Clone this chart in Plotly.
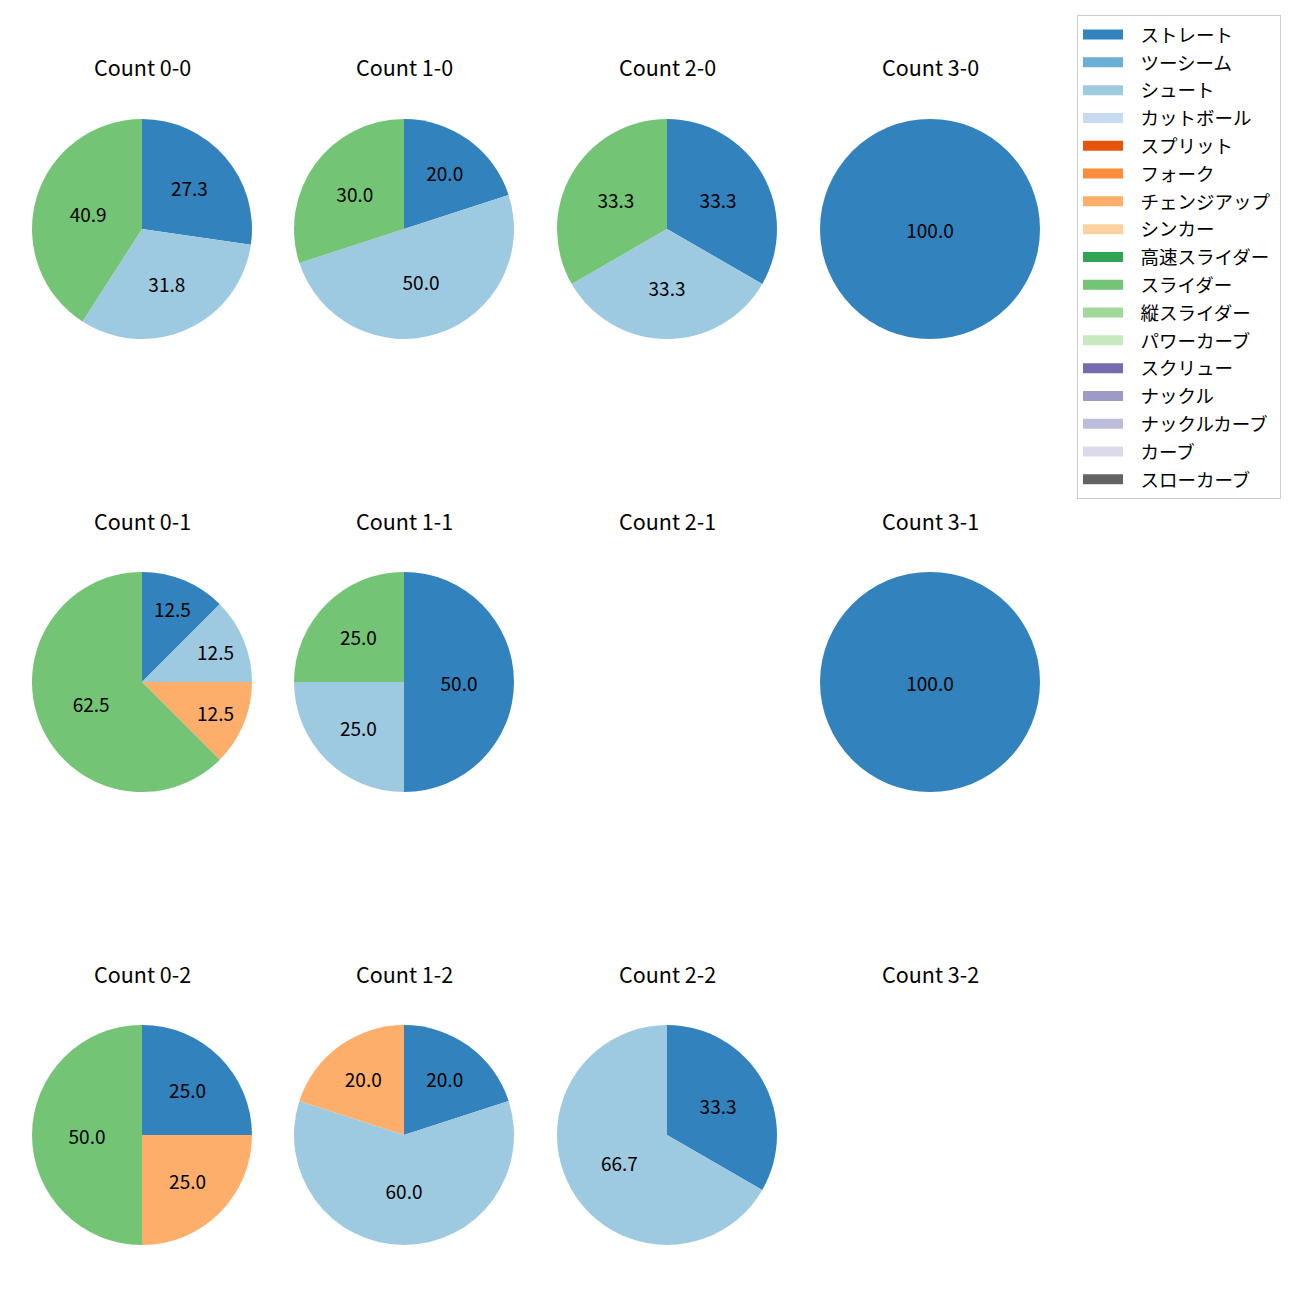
import plotly.graph_objects as go

pitch_types = ["ストレート", "ツーシーム", "シュート", "カットボール", "スプリット", "フォーク",
               "チェンジアップ", "シンカー", "高速スライダー", "スライダー", "縦スライダー",
               "パワーカーブ", "スクリュー", "ナックル", "ナックルカーブ", "カーブ", "スローカーブ"]
colors = ["#3182bd", "#6baed6", "#9ecae1", "#c6dbef", "#e6550d", "#fd8d3c",
          "#fdae6b", "#fdd0a2", "#31a354", "#74c476", "#a1d99b", "#c7e9c0",
          "#756bb1", "#9e9ac8", "#bcbddc", "#dadaeb", "#636363"]
color_map = dict(zip(pitch_types, colors))

counts = ["0-0", "1-0", "2-0", "3-0", "0-1", "1-1", "2-1", "3-1", "0-2", "1-2", "2-2", "3-2"]
labels_by_count = {
    "0-0": ["ストレート", "シュート", "スライダー"],
    "1-0": ["ストレート", "シュート", "スライダー"],
    "2-0": ["ストレート", "シュート", "スライダー"],
    "3-0": ["ストレート"],
    "0-1": ["ストレート", "シュート", "チェンジアップ", "スライダー"],
    "1-1": ["ストレート", "シュート", "スライダー"],
    "2-1": [],
    "3-1": ["ストレート"],
    "0-2": ["ストレート", "チェンジアップ", "スライダー"],
    "1-2": ["ストレート", "シュート", "チェンジアップ"],
    "2-2": ["ストレート", "シュート"],
    "3-2": [],
}
values_by_count = {
    "0-0": [6, 7, 9],
    "1-0": [2, 5, 3],
    "2-0": [1, 1, 1],
    "3-0": [1],
    "0-1": [1, 1, 1, 5],
    "1-1": [2, 1, 1],
    "2-1": [],
    "3-1": [1],
    "0-2": [1, 1, 2],
    "1-2": [1, 3, 1],
    "2-2": [1, 2],
    "3-2": [],
}

W, H = 1300, 1300
OFF = 8  # page body margin
col_centers = [142 - OFF, 404 - OFF, 667 - OFF, 930 - OFF]
row_centers = [229 - OFF, 682 - OFF, 1135 - OFF]
R = 110
FONT = "Noto Sans CJK JP"

fig = go.Figure()
annotations = []
for i, c in enumerate(counts):
    r, k = divmod(i, 4)
    cx, cy = col_centers[k], row_centers[r]
    labs = labels_by_count[c]
    vals = values_by_count[c]
    annotations.append(dict(text=f"Count {c}", x=cx / W, y=1 - (cy - 162) / H,
                            xref="paper", yref="paper", showarrow=False,
                            font=dict(size=21.5, color="black", family=FONT),
                            xanchor="center", yanchor="middle"))
    if not vals:
        continue
    tot = sum(vals)
    txt = [f"{v / tot * 100:.1f}" for v in vals]
    fig.add_trace(go.Pie(
        labels=labs, values=vals, text=txt, textinfo="text",
        textposition="inside", insidetextorientation="horizontal",
        textfont=dict(size=19, color="black", family=FONT),
        marker=dict(colors=[color_map[l] for l in labs], line=dict(width=0)),
        sort=False, direction="clockwise", rotation=0,
        domain=dict(x=[(cx - R) / W, (cx + R) / W], y=[1 - (cy + R) / H, 1 - (cy - R) / H]),
        showlegend=False, hoverinfo="label+percent",
    ))

for p, col in zip(pitch_types, colors):
    fig.add_trace(go.Scatter(x=[None], y=[None], mode="lines", name="\u00a0\u00a0\u00a0" + p + "\u00a0",
                             line=dict(color=col, width=13), legendgroup=p))

fig.update_layout(
    width=W, height=H, margin=dict(l=0, r=0, t=0, b=0),
    paper_bgcolor="white", plot_bgcolor="white",
    xaxis=dict(visible=False), yaxis=dict(visible=False),
    annotations=annotations,
    font=dict(family=FONT),
    legend=dict(x=(1077 - OFF) / W, y=1 - (15 - OFF) / H, xanchor="left", yanchor="top",
                bordercolor="#cccccc", borderwidth=1, bgcolor="white",
                font=dict(size=18.5, color="black", family=FONT),
                tracegroupgap=0.75, itemwidth=40),
)
fig.write_html("out.html")
